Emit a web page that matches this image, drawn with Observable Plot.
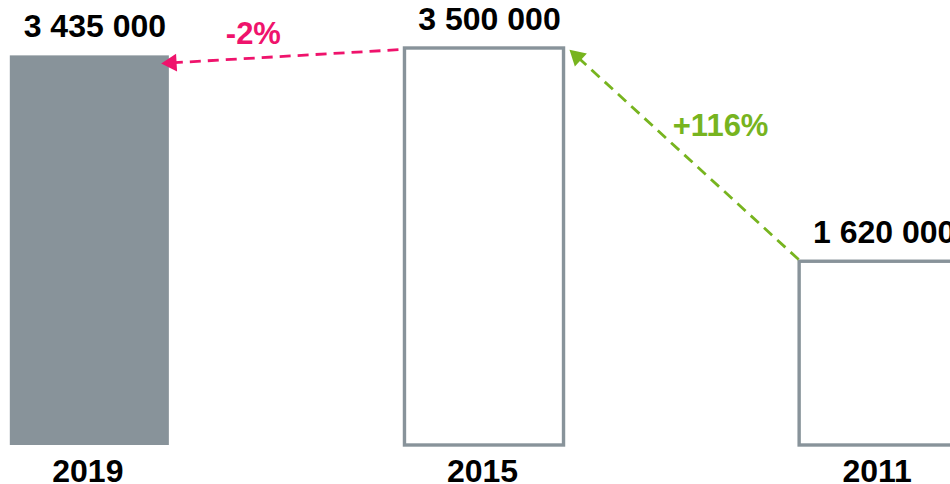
<!DOCTYPE html>
<html>
<head>
<meta charset="utf-8">
<script src="https://cdn.jsdelivr.net/npm/d3@7"></script>
<script src="https://cdn.jsdelivr.net/npm/@observablehq/plot@0.6"></script>
<style>
  html, body { margin: 0; padding: 0; background: #fff; overflow: hidden; }
  #chart svg { display: block; }
</style>
</head>
<body>
<div id="chart"></div>
<script>
// ---- data ----
const years = ["2019", "2015", "2011"];
const values = [3435000, 3500000, 1620000];
const valueLabels = ["3 435 000", "3 500 000", "1 620 000"];
const filled = [true, false, false];
const changeLabels = ["-2%", "+116%"];
const changeFrom = [1, 2];   // index of the older/source year
const changeTo = [0, 1];     // index of the newer/target year

// ---- style ----
const GREY = "#88939a";
const PINK = "#ef136c";
const GREEN = "#77b41f";
const changeColors = [PINK, GREEN];
const FONT = "'Liberation Sans', Arial, Helvetica, sans-serif";

const xOpts = {type: "linear", domain: [-0.5, 2.5], range: [-108, 1076]};
const yOpts = {type: "linear", domain: [0, 3500000], range: [445, 48]};
const xs = Plot.scale({x: xOpts});
const ys = Plot.scale({y: yOpts});
const hw = 0.2015; // half bar width, in category units

const idx = years.map((_, i) => i);

// arrow geometry derived from bars
const arrowStartDx = [-0.218, -0.204];
const arrowEndDx = [0.181, 0.2155];
const arrowStartK = [0.997, 1.012];
const arrowEndK = [0.9805, 0.997];
const arrows = changeLabels.map((label, k) => {
  const f = changeFrom[k], t = changeTo[k];
  const sx = xs.apply(f + arrowStartDx[k]), sy = ys.apply(values[f] * arrowStartK[k]);
  const tx = xs.apply(t + arrowEndDx[k]), ty = ys.apply(values[t] * arrowEndK[k]);
  const dx = tx - sx, dy = ty - sy, len = Math.hypot(dx, dy);
  const ux = dx / len, uy = dy / len;
  return {
    label, color: changeColors[k],
    x1: xs.invert(sx), y1: ys.invert(sy),
    x2: xs.invert(tx - ux * 13), y2: ys.invert(ty - uy * 13),
    hx: xs.invert(tx - ux * 10.2), hy: ys.invert(ty - uy * 10.2),
    mx: xs.invert((sx + tx) / 2), my: ys.invert((sy + ty) / 2),
    rot: Math.atan2(dx, -dy) * 180 / Math.PI
  };
});
const labelDx = [-26.5, 36.5];
const labelDy = [-13, -19];

const chart = Plot.plot({
  width: 950,
  height: 484,
  margin: 0,
  x: {...xOpts, axis: null},
  y: {...yOpts, axis: null},
  style: {fontFamily: FONT, background: "#fff", overflow: "hidden"},
  marks: [
    Plot.rectY(idx.filter(i => filled[i]), {
      x1: i => i - hw, x2: i => i + hw, y1: 0, y2: i => values[i], fill: GREY
    }),
    Plot.rectY(idx.filter(i => !filled[i]), {
      x1: i => i - hw, x2: i => i + hw, y1: 0, y2: i => values[i],
      fill: "none", stroke: GREY, strokeWidth: 3.4
    }),
    Plot.text(idx, {
      x: i => i, y: i => values[i], text: i => valueLabels[i],
      dx: 5, dy: -18.5, lineAnchor: "bottom", textAnchor: "middle",
      fontSize: 32, fontWeight: "bold", fill: "#000"
    }),
    Plot.text(idx, {
      x: i => i, y: 0, text: i => years[i],
      dx: -2, dy: 36, lineAnchor: "bottom", textAnchor: "middle",
      fontSize: 32, fontWeight: "bold", fill: "#000"
    }),
    ...arrows.map((a, k) => Plot.link([a], {
      x1: "x1", y1: "y1", x2: "x2", y2: "y2",
      stroke: a.color, strokeWidth: 2.8, strokeDasharray: "11,7"
    })),
    ...arrows.map((a, k) => Plot.dot([a], {
      x: "hx", y: "hy", symbol: "triangle", r: 6.6, rotate: a.rot,
      fill: a.color, stroke: "none"
    })),
    ...arrows.map((a, k) => Plot.text([a], {
      x: "mx", y: "my", text: "label",
      dx: labelDx[k], dy: labelDy[k], lineAnchor: "bottom", textAnchor: "middle",
      fontSize: 31, fontWeight: "bold", fill: a.color
    }))
  ]
});
document.getElementById("chart").append(chart);
</script>
</body>
</html>
